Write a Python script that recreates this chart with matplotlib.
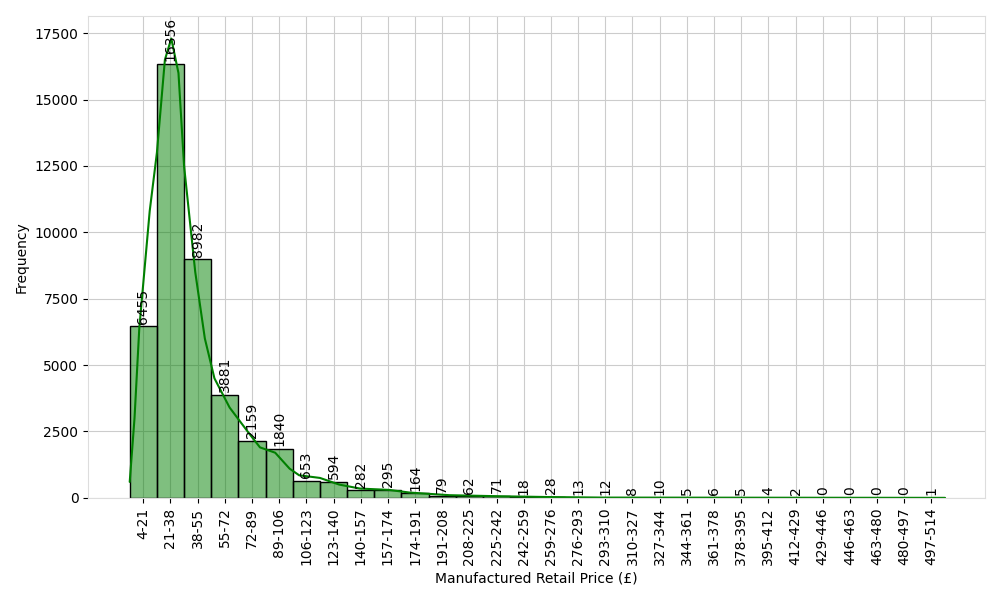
import matplotlib
matplotlib.use("Agg")
import matplotlib.pyplot as plt
import numpy as np
import seaborn as sns

bin_edges = list(range(4, 515, 17))
counts = [6455, 16356, 8982, 3881, 2159, 1840, 653, 594, 282, 295, 164, 79, 62, 71,
          18, 28, 13, 12, 8, 10, 5, 6, 5, 4, 2, 0, 0, 0, 0, 1]
# kde curve
kde_x = [4, 7, 10, 16.5, 21, 26, 30, 34.5, 38, 45, 51, 57, 66.5, 79, 85.5, 95, 104, 110,
         123, 135, 148, 166, 179, 204, 235, 266, 300, 400, 514]
kde_y = [600, 3000, 6400, 10800, 13000, 16500, 17300, 16000, 12500, 8500, 6000, 4500,
         3400, 2400, 1900, 1700, 1100, 850, 750, 500, 350, 300, 200, 100, 60, 30, 10, 5, 0]

sns.set_style("whitegrid")
plt.rcParams.update({"xtick.bottom": True, "ytick.left": True,
                     "xtick.color": "black", "ytick.color": "black",
                     "axes.labelcolor": "black", "text.color": "black"})
fig, ax = plt.subplots(figsize=(10, 6), dpi=100)

edges = np.array(bin_edges)
centers = (edges[:-1] + edges[1:]) / 2
ax.bar(edges[:-1], counts, width=17, align="edge", color=(0, 0.5, 0, 0.5),
       edgecolor="black", linewidth=1)
ax.plot(kde_x, kde_y, color="green", lw=1.5)

for c, v in zip(centers, counts):
    ax.text(c, v + 100, str(v), rotation=90, ha="center", va="bottom", fontsize=10)

labels = [f"{edges[i]}-{edges[i+1]}" for i in range(len(counts))]
ax.set_xticks(centers)
ax.set_xticklabels(labels, rotation=90)
ax.set_yticks(np.arange(0, 17501, 2500))
ax.set_xlim(-22, 539)
ax.set_ylim(0, 18140)
ax.set_xlabel("Manufactured Retail Price (£)")
ax.set_ylabel("Frequency")
for s in ax.spines.values():
    s.set_color("#dddddd")
plt.tight_layout()
plt.savefig("out.png")
